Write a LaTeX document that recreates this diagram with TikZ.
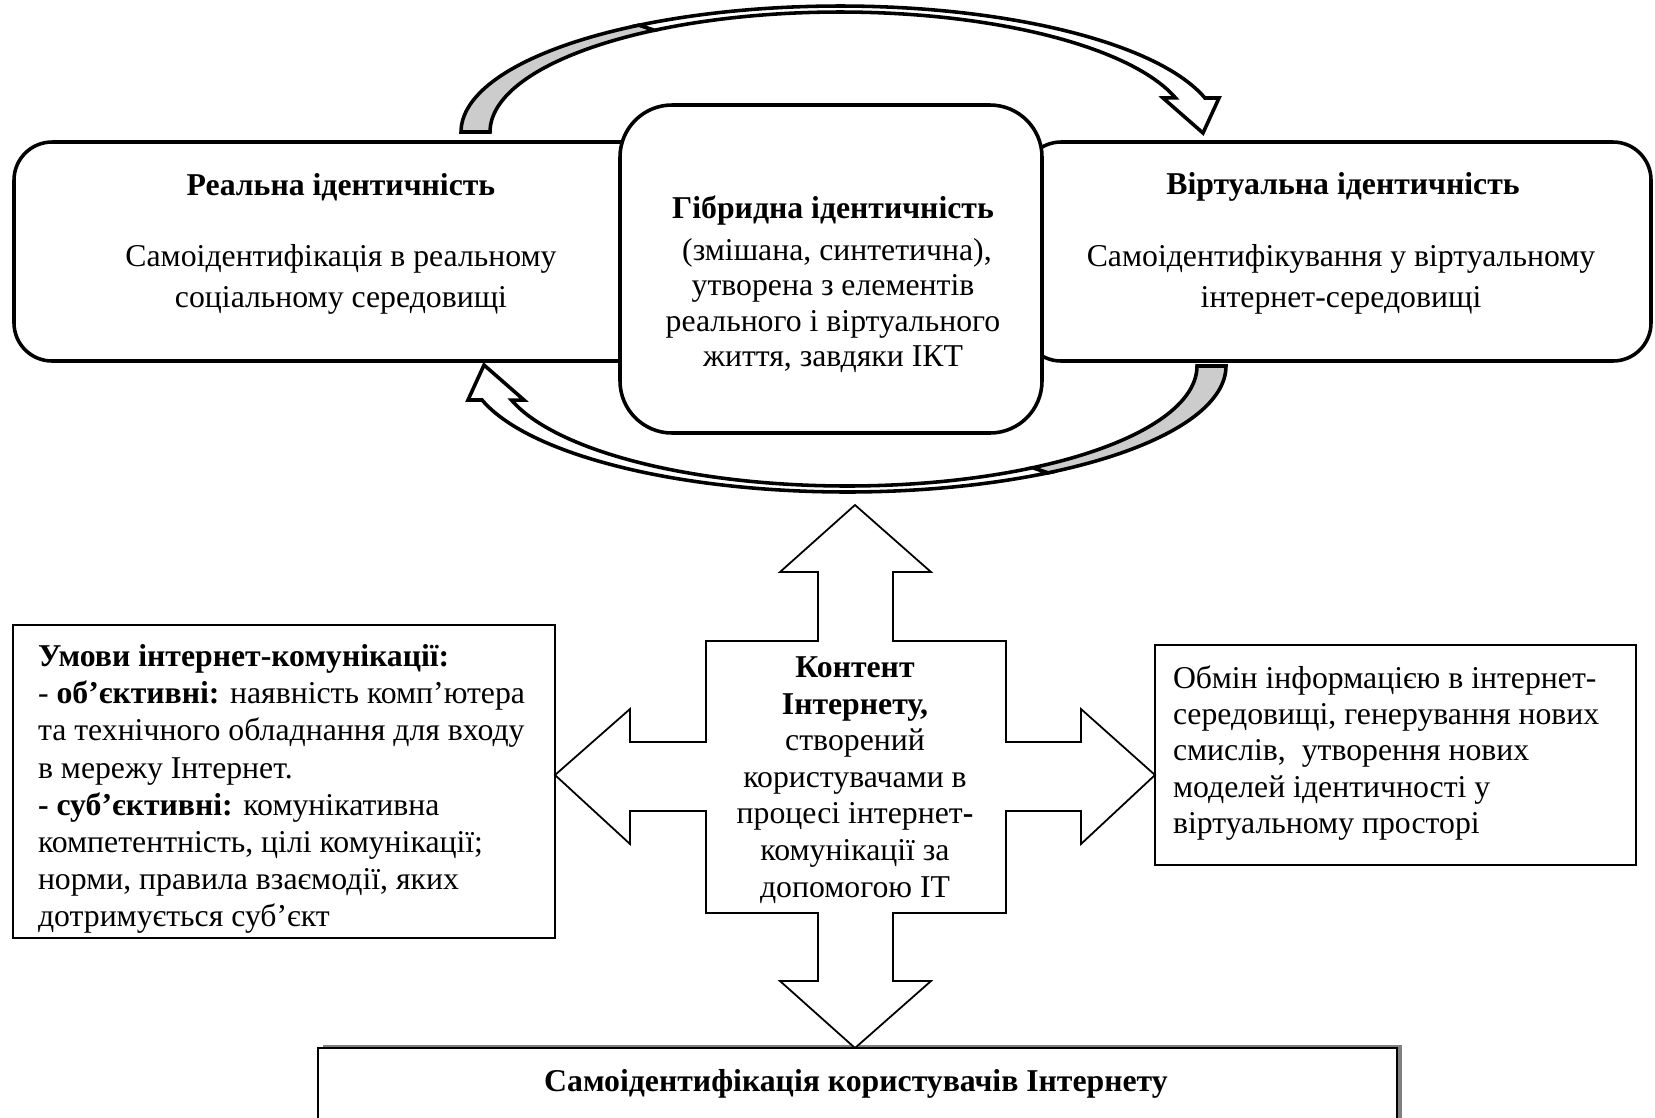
\documentclass[tikz,border=0pt]{standalone}
\usepackage{fontspec}
\setmainfont{Liberation Serif}
\newcommand\pxu{0.3937pt}
\newcommand\myribbon{%
  \filldraw[ribbon, fill=black!20]
    plot[domain=180:122,samples=40] ({840+379*cos(\x)},{132-126*sin(\x)})
    -- plot[domain=122:180,samples=40] ({840+350*cos(\x)},{132-120*sin(\x)}) -- cycle;
  \filldraw[ribbon, fill=white]
    plot[domain=122:15.65,samples=70] ({840+379*cos(\x)},{132-126*sin(\x)})
    -- (1219,98) -- (1203,133) -- (1163,98)
    -- plot[domain=16.5:122,samples=70] ({840+350*cos(\x)},{132-120*sin(\x)}) -- cycle;
}
\begin{document}
\begin{tikzpicture}[x=0.3937pt, y=-0.3937pt,
  every node/.style={inner sep=0pt, outer sep=0pt, font=\fontsize{12.5}{16.1}\selectfont},
  topbox/.style={draw, line width=1.4pt, fill=white, rounded corners=15pt, rectangle},
  plainbox/.style={draw, line width=0.8pt, fill=white, rectangle},
  ribbon/.style={line width=1.4pt, line join=miter},
  quad/.style={draw, line width=0.7pt, fill=white, line join=miter},
  ttl/.style={font=\fontsize{12.5}{16.1}\selectfont\bfseries, align=center},
  bodyA/.style={font=\fontsize{12.5}{16.1}\selectfont, align=center},
  bodyB/.style={font=\fontsize{12.5}{14}\selectfont, align=center},
  bodyC/.style={font=\fontsize{12.5}{14.4}\selectfont, align=center},
  bodyL/.style={font=\fontsize{12.5}{14.6}\selectfont, align=left, anchor=west},
  bodyR/.style={font=\fontsize{12.5}{14.3}\selectfont, align=left, anchor=west}
]
\useasboundingbox (0,0) rectangle (1655,1117);
\clip (0,0) rectangle (1655,1117);

% curved arrows
\myribbon
\begin{scope}[rotate around={180:(843.5,249)}]
  \myribbon
\end{scope}

% top boxes
\node[topbox, minimum width=654*\pxu, minimum height=219*\pxu] (real) at (341,251.5) {};
\node[topbox, minimum width=628*\pxu, minimum height=219*\pxu] (virt) at (1337,251.5) {};
\node[topbox, rounded corners=20.5pt, minimum width=422*\pxu, minimum height=328*\pxu] (hyb) at (831,269) {};

\node[ttl] (realT) at (341,187) {Реальна ідентичність};
\node[bodyA] (realB) at (341,279.5) {Самоідентифікація в реальному\\соціальному середовищі};
\node[ttl] (virtT) at (1343,187) {Віртуальна ідентичність};
\node[bodyA] (virtB) at (1341,279.5) {Самоідентифікування у віртуальному\\інтернет-середовищі};
\node[ttl] (hybT) at (833,211) {Гібридна ідентичність};
\node[bodyB] (hybB) at (833,305.5) {\ (змішана, синтетична),\\утворена з елементів\\реального і віртуального\\життя, завдяки ІКТ};

% side boxes
\node[plainbox, minimum width=542*\pxu, minimum height=313*\pxu] (cond) at (284,781.5) {};
\node[bodyL] (condT) at (38,789) {\textbf{Умови інтернет-комунікації:}\\
- \textbf{об’єктивні:} наявність комп’ютера\\
та технічного обладнання для входу\\
в мережу Інтернет.\\
\textbf{- суб’єктивні:} комунікативна\\
компетентність, цілі комунікації;\\
норми, правила взаємодії, яких\\
дотримується суб’єкт};

\node[plainbox, minimum width=481*\pxu, minimum height=220*\pxu] (exch) at (1395.5,755) {};
\node[bodyR] (exchT) at (1173,753) {Обмін інформацією в інтернет-\\
середовищі, генерування нових\\
смислів, \ утворення нових\\
моделей ідентичності у\\
віртуальному просторі};

% bottom box with shadow
\fill[black!50] (323,1045) rectangle (1402,1140);
\node[plainbox, minimum width=1079*\pxu, minimum height=92*\pxu] (self) at (857.5,1094) {};
\node[ttl] (selfT) at (856,1084) {Самоідентифікація користувачів Інтернету};

% quad arrow
\draw[quad] (855,505) -- (931,572) -- (893,572) -- (893,641) -- (1006,641) -- (1006,742)
  -- (1081,742) -- (1081,709) -- (1155,775) -- (1081,844) -- (1081,811) -- (1006,811)
  -- (1006,913) -- (893,913) -- (893,981) -- (931,981) -- (855,1048) -- (780,981)
  -- (818,981) -- (818,913) -- (706,913) -- (706,811) -- (630,811) -- (630,844)
  -- (555,775) -- (630,709) -- (630,742) -- (706,742) -- (706,641) -- (818,641)
  -- (818,572) -- (780,572) -- cycle;
\node[bodyC] (content) at (855,780) {\textbf{Контент}\\\textbf{Інтернету,}\\створений\\користувачами в\\процесі інтернет\textbf{-}\\комунікації за\\допомогою ІТ};
\end{tikzpicture}
\end{document}
